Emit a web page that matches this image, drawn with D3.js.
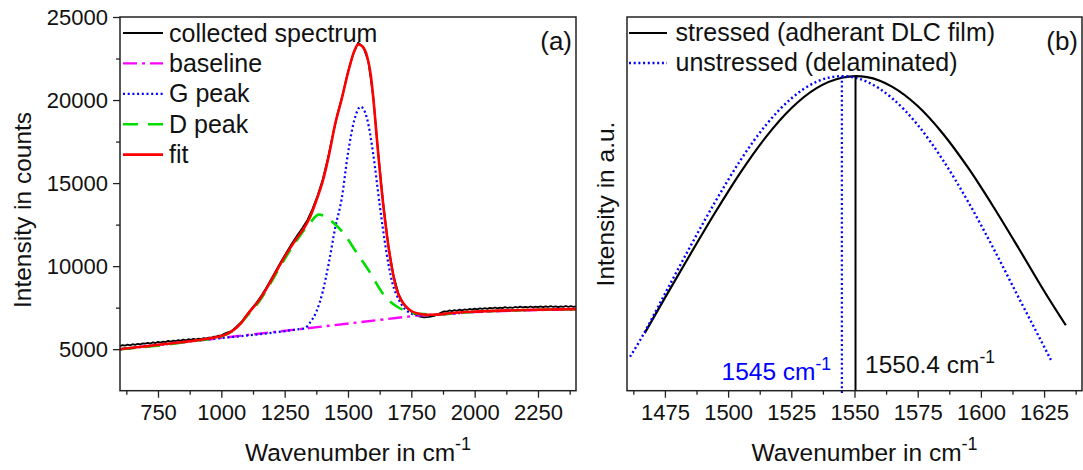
<!DOCTYPE html>
<html><head><meta charset="utf-8">
<script src="https://cdn.jsdelivr.net/npm/d3@7"></script>
<style>
body{margin:0;background:#fff;}
svg{display:block;font-family:"Liberation Sans",Arial,sans-serif;}
</style></head><body>
<svg id="c" width="1083" height="470"></svg>
<script>
// ---------- Panel (a) data ----------
const collectedX = [600,610,620,630,640,650,660,670,680,690,700,710,720,730,740,750,760,770,780,790,800,810,820,830,840,850,860,870,880,890,900,910,920,930,940,950,960,970,980,990,1000,
  1020,1040,1060,1080,1100,1120,1140,1160,1180,1200,1220,1240,1260,1280,1300,1320,1340,1360,1380,1400,1420,1440,1460,1480,1500,1520,1540,1560,1580,1600,1620,1640,1660,1680,1700,1720,1740,1760,1780,1800,1820,1840,
  1850,1860,1870,1880,1890,1900,1910,1920,1930,1940,1950,1960,1970,1980,1990,2000,2010,2020,2030,2040,2050,2060,2070,2080,2090,2100,2110,2120,2130,2140,2150,2160,2170,2180,2190,2200,2210,2220,2230,2240,2250,2260,2270,2280,2290,2300,2310,2320,2330,2340,2350,2360,2370,2380,2390,2400];
const collectedY = [5190,5240,5210,5270,5230,5300,5260,5320,5290,5350,5330,5380,5340,5410,5370,5440,5400,5460,5430,5500,5450,5520,5480,5550,5500,5580,5530,5600,5560,5620,5580,5640,5610,5660,5640,5700,5690,5750,5760,5820,5830,
  5990,6090,6360,6650,7050,7440,7820,8260,8760,9300,9840,10390,10900,11400,11860,12300,12780,13450,14250,15200,16450,17900,19250,20400,21700,22750,23450,23200,22350,20150,16700,13650,11150,9400,8300,7700,7380,7150,6980,6920,6950,7000,
  7080,7150,7220,7280,7260,7330,7290,7350,7310,7380,7340,7390,7360,7420,7380,7440,7400,7460,7420,7470,7430,7490,7450,7510,7460,7500,7470,7530,7480,7520,7490,7540,7500,7560,7510,7550,7510,7570,7520,7560,7530,7580,7530,7570,7540,7590,7540,7580,7530,7580,7550,7600,7550,7590,7550,7580];
const baselineX = [600,1337,1770,1850,2000,2200,2400];
const baselineY = [4995,6254,7020,7070,7240,7345,7395];
const gPeakX = [600,900,1300,1330,1350,1375,1400,1425,1450,1475,1500,1525,1550,1575,1600,1625,1650,1675,1700,1725,1750,1775,1800,1850,2000,2200,2400];
const gPeakY = [4995,5507,6191,6260,6600,7250,8450,10250,12350,14050,16800,18800,19600,18900,16700,13700,11000,9000,8000,7400,7150,7060,7060,7075,7245,7350,7400];
const dPeakX = [600,900,1000,1050,1100,1150,1200,1250,1300,1350,1385,1410,1438,1483,1536,1581,1642,1694,1740,1800,1850,2000,2200,2400];
const dPeakY = [4995,5510,5760,6150,6980,7880,9120,10430,11600,12600,13100,13000,12667,11970,10767,9761,8258,7553,7253,7110,7090,7250,7355,7405];
const fitX = [600,650,700,750,800,850,900,950,1000,1025,1050,1075,1100,1125,1150,1175,1200,1225,1250,1275,1300,1325,1350,1375,1400,1425,1450,1475,1500,1525,1540,1555,1575,1590,1600,1615,1630,1645,1660,1675,1690,1710,1730,1750,1775,1800,1825,1850,1900,1950,2000,2100,2200,2300,2400];
const fitY = [5000,5085,5170,5260,5345,5430,5520,5640,5790,5940,6170,6520,7030,7500,7960,8560,9220,9900,10560,11160,11720,12250,12950,13950,15100,16700,18600,20050,21650,22950,23350,23250,22650,21500,20100,17500,15000,12900,11150,9750,8700,7950,7550,7300,7150,7090,7070,7080,7160,7220,7260,7320,7360,7390,7410];
const xTicksA = [750,1000,1250,1500,1750,2000,2250];
const xMinorA = [625,875,1125,1375,1625,1875,2125,2375];
const yTicksA = [5000,10000,15000,20000,25000];
const yMinorA = [7500,12500,17500,22500];
const legendA = ["collected spectrum","baseline","G peak","D peak","fit"];

// ---------- Panel (b) data ----------
const stressedX = [1467,1475,1485,1495,1505,1515,1525,1535,1545,1550.4,1555,1565,1575,1585,1595,1605,1615,1625,1633.6];
const stressedY = [0.183,0.295,0.433,0.568,0.695,0.807,0.898,0.962,0.995,1.0,0.997,0.966,0.905,0.817,0.708,0.584,0.452,0.317,0.208];
const unstressedX = [1461.2,1465,1475,1485,1495,1505,1515,1525,1535,1545,1555,1565,1575,1585,1595,1605,1615,1625,1627.7];
const unstressedY = [0.108,0.158,0.308,0.458,0.602,0.734,0.845,0.929,0.982,1.0,0.982,0.929,0.845,0.733,0.600,0.452,0.295,0.14,0.098];
const peakPositions = [1545, 1550.4];
const peakLabels = ["1545 cm", "1550.4 cm"];
const xTicksB = [1475,1500,1525,1550,1575,1600,1625];
const xMinorB = [1462.5,1487.5,1512.5,1537.5,1562.5,1587.5,1612.5,1637.5];
const legendB = ["stressed (adherant DLC film)","unstressed (delaminated)"];

// ---------- setup ----------
const svg = d3.select("#c");
const FRAME = "#222";
const PA = {left:120, right:576, top:17, bottom:390.7};
const PB = {left:627, right:1082, top:17, bottom:390.7};
const xA = d3.scaleLinear().domain([600,2400]).range([PA.left,PA.right]);
const yA = d3.scaleLinear().domain([2500,25000]).range([PA.bottom,PA.top]);
const xB = d3.scaleLinear().domain([1460,1640]).range([PB.left,PB.right]);
const yB = d3.scaleLinear().domain([0,1.188]).range([PB.bottom,PB.top]);

const defs = svg.append("defs");
defs.append("clipPath").attr("id","clipA").append("rect")
  .attr("x",PA.left).attr("y",PA.top).attr("width",PA.right-PA.left).attr("height",PA.bottom-PA.top);

const styles = {
  collected:{stroke:"#000", w:1.8, dash:null},
  baseline:{stroke:"#ff00ff", w:2.4, dash:"14,5,3,5"},
  g:{stroke:"#0000ff", w:2.2, dash:"2,2.7"},
  d:{stroke:"#00dd00", w:2.6, dash:"15,10"},
  fit:{stroke:"#ff0000", w:2.6, dash:null},
  stressed:{stroke:"#000", w:2.2, dash:null},
  unstressed:{stroke:"#0000ff", w:2.4, dash:"2,2.7"}
};

function drawLine(g, X, Y, xs, ys, st, curve){
  const data = X.map((x,i)=>[x,Y[i]]);
  g.append("path").datum(data)
    .attr("fill","none").attr("stroke",st.stroke).attr("stroke-width",st.w)
    .attr("stroke-dasharray",st.dash).attr("stroke-linejoin","round")
    .attr("d", d3.line().x(d=>xs(d[0])).y(d=>ys(d[1])).curve(curve));
}

function styleAxis(g){
  g.select(".domain").remove();
  g.selectAll(".tick line").attr("stroke",FRAME).attr("stroke-width",1.3);
  g.selectAll(".tick text").attr("fill","#111").attr("font-size",22)
    .attr("font-family",'"Liberation Sans",Arial,sans-serif');
}

// ---------- Panel A ----------
const gA = svg.append("g");
const linesA = gA.append("g").attr("clip-path","url(#clipA)");
drawLine(linesA, collectedX, collectedY, xA, yA, styles.collected, d3.curveLinear);
drawLine(linesA, baselineX, baselineY, xA, yA, styles.baseline, d3.curveLinear);
drawLine(linesA, gPeakX, gPeakY, xA, yA, styles.g, d3.curveMonotoneX);
drawLine(linesA, dPeakX, dPeakY, xA, yA, styles.d, d3.curveMonotoneX);
drawLine(linesA, fitX, fitY, xA, yA, styles.fit, d3.curveMonotoneX);

gA.append("g").attr("transform",`translate(0,${PA.bottom})`)
  .call(d3.axisBottom(xA).tickValues(xTicksA).tickSize(7).tickPadding(7).tickFormat(d3.format("d"))).call(styleAxis);
gA.append("g").attr("transform",`translate(0,${PA.bottom})`)
  .call(d3.axisBottom(xA).tickValues(xMinorA).tickSize(4).tickFormat("")).call(styleAxis);
gA.append("g").attr("transform",`translate(${PA.left},0)`)
  .call(d3.axisLeft(yA).tickValues(yTicksA).tickSize(7).tickPadding(5).tickFormat(d3.format("d"))).call(styleAxis);
gA.append("g").attr("transform",`translate(${PA.left},0)`)
  .call(d3.axisLeft(yA).tickValues(yMinorA).tickSize(4).tickFormat("")).call(styleAxis);
gA.append("rect").attr("x",PA.left).attr("y",PA.top).attr("width",PA.right-PA.left).attr("height",PA.bottom-PA.top)
  .attr("fill","none").attr("stroke",FRAME).attr("stroke-width",1.5);

// legend A
const legStylesA = [styles.collected, styles.baseline, styles.g, styles.d, styles.fit];
legendA.forEach((lab,i)=>{
  const yb = 41.5 + i*30.4;
  const st = legStylesA[i];
  gA.append("line").attr("x1",123).attr("x2",163).attr("y1",yb-8.5).attr("y2",yb-8.5)
    .attr("stroke",st.stroke).attr("stroke-width",st.w).attr("stroke-dasharray",st.dash);
  gA.append("text").attr("x",169).attr("y",yb).attr("font-size",25).attr("fill","#111").text(lab);
});
gA.append("text").attr("x",572).attr("y",50).attr("text-anchor","end").attr("font-size",26).attr("fill","#111").text("(a)");

// ---------- Panel B ----------
const gB = svg.append("g");
const linesB = gB.append("g");
drawLine(linesB, stressedX, stressedY, xB, yB, styles.stressed, d3.curveMonotoneX);
drawLine(linesB, unstressedX, unstressedY, xB, yB, styles.unstressed, d3.curveMonotoneX);
linesB.append("line").attr("x1",xB(peakPositions[0])).attr("x2",xB(peakPositions[0]))
  .attr("y1",yB(1)).attr("y2",PB.bottom+4.5)
  .attr("stroke","#0000ff").attr("stroke-width",2.2).attr("stroke-dasharray","2,2.7");
linesB.append("line").attr("x1",xB(peakPositions[1])).attr("x2",xB(peakPositions[1]))
  .attr("y1",yB(1)).attr("y2",PB.bottom)
  .attr("stroke","#000").attr("stroke-width",2);

gB.append("g").attr("transform",`translate(0,${PB.bottom})`)
  .call(d3.axisBottom(xB).tickValues(xTicksB).tickSize(7).tickPadding(7).tickFormat(d3.format("d"))).call(styleAxis);
gB.append("g").attr("transform",`translate(0,${PB.bottom})`)
  .call(d3.axisBottom(xB).tickValues(xMinorB).tickSize(4).tickFormat("")).call(styleAxis);
gB.append("rect").attr("x",PB.left).attr("y",PB.top).attr("width",PB.right-PB.left).attr("height",PB.bottom-PB.top)
  .attr("fill","none").attr("stroke",FRAME).attr("stroke-width",1.5);

const legStylesB = [styles.stressed, styles.unstressed];
legendB.forEach((lab,i)=>{
  const yb = 40.5 + i*30;
  const st = legStylesB[i];
  gB.append("line").attr("x1",629).attr("x2",667).attr("y1",yb-7.5).attr("y2",yb-7.5)
    .attr("stroke",st.stroke).attr("stroke-width",st.w).attr("stroke-dasharray",st.dash);
  gB.append("text").attr("x",675.5).attr("y",yb).attr("font-size",25).attr("fill","#111").text(lab);
});
gB.append("text").attr("x",1078).attr("y",50).attr("text-anchor","end").attr("font-size",26).attr("fill","#111").text("(b)");

// annotations
function supText(parent, x, y, main, sup, color){
  const t = parent.append("text").attr("y",y).attr("font-size",24.5).attr("fill",color);
  t.append("tspan").text(main);
  t.append("tspan").attr("font-size",17.5).attr("dy",-10).text(sup);
  t.attr("x", x);
  return t;
}
supText(gB, 721.5, 380, peakLabels[0], "-1", "#0000ff");
supText(gB, 865, 372.5, peakLabels[1], "-1", "#111");

// axis titles
function xTitle(cx, y){
  const t = svg.append("text").attr("y",y).attr("font-size",24.5).attr("fill","#111");
  const m = t.append("tspan").text("Wavenumber in cm");
  t.append("tspan").attr("font-size",18).attr("dy",-11).text("-1");
  const w = m.node().getComputedTextLength();
  t.attr("x", cx - w/2);
}
xTitle((PA.left+PA.right)/2 + 2, 461);
xTitle((PB.left+PB.right)/2 + 2, 461);

svg.append("text").attr("transform","translate(31,210) rotate(-90)").attr("text-anchor","middle")
  .attr("font-size",24.5).attr("fill","#111").text("Intensity in counts");
svg.append("text").attr("transform","translate(614,204) rotate(-90)").attr("text-anchor","middle")
  .attr("font-size",24.5).attr("fill","#111").text("Intensity in a.u.");
</script>
</body></html>
